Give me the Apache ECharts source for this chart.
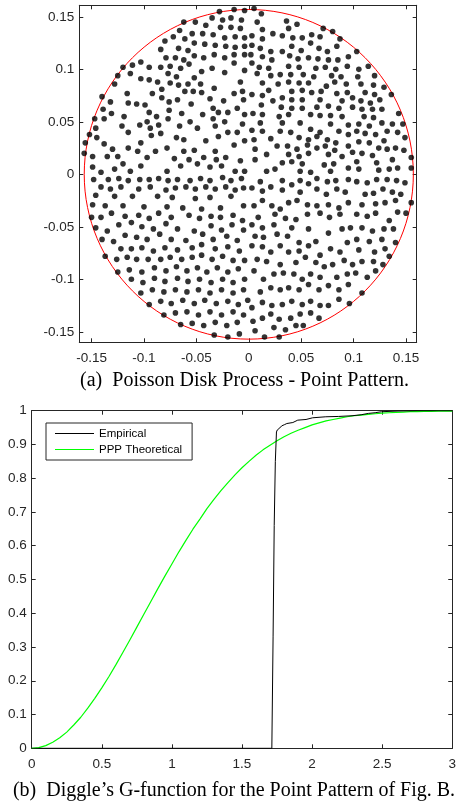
<!DOCTYPE html>
<html>
<head>
<meta charset="utf-8">
<script src="https://cdn.jsdelivr.net/npm/echarts@6/dist/echarts.min.js"></script>
<style>
  html, body { margin: 0; padding: 0; background: #ffffff; }
  #chart { width: 459px; height: 808px; }
</style>
</head>
<body>
<div id="chart"></div>
<script>
// ---- (a) Poisson disk point pattern, one list per quadrant of the window ----
const ptsNW = [
  [-.028,.155],[-.014,.157],[-.004,.156],[-.035,.149],[-.025,.147],[-.017,.149],[-.007,.147],[-.062,.145],[-.051,.145],
  [-.041,.142],[-.027,.140],[-.017,.140],[-.008,.139],[-.066,.137],[-.054,.134],[-.044,.134],[-.034,.133],[-.072,.131],
  [-.061,.129],[-.023,.130],[-.013,.131],[-.004,.130],[-.080,.127],[-.052,.125],[-.042,.124],[-.067,.120],[-.058,.118],
  [-.084,.119],[-.032,.123],[-.022,.122],[-.013,.121],[-.004,.122],[-.079,.111],[-.070,.111],[-.062,.109],[-.052,.113],
  [-.043,.111],[-.033,.114],[-.023,.111],[-.014,.114],[-.004,.114],[-.120,.102],[-.111,.104],[-.103,.107],[-.095,.102],
  [-.084,.102],[-.075,.103],[-.065,.101],[-.057,.105],[-.045,.098],[-.035,.101],[-.023,.097],[-.014,.106],[-.004,.099],
  [-.125,.094],[-.113,.096],[-.095,.090],[-.087,.088],[-.077,.096],[-.069,.093],[-.052,.092],[-.046,.086],[-.033,.082],
  [-.008,.088],[-.128,.086],[-.103,.091],[-.075,.087],[-.067,.085],[-.058,.086],[-.053,.079],[-.045,.078],[-.014,.077],
  [-.006,.079],[-.140,.074],[-.116,.077],[-.092,.077],[-.083,.081],[-.068,.071],[-.061,.079],[-.132,.069],[-.115,.068],
  [-.107,.067],[-.099,.066],[-.083,.073],[-.076,.069],[-.055,.067],[-.037,.072],[-.024,.070],[-.034,.063],[-.020,.059],
  [-.011,.063],[-.005,.071],[-.064,.058],[-.044,.057],[-.056,.050],[-.066,.046],
  [-.139,.062],[-.131,.058],[-.095,.059],[-.076,.061],[-.029,.059],[-.004,.057],[-.147,.053],[-.138,.053],[-.119,.055],
  [-.097,.050],[-.088,.055],[-.077,.053],[-.034,.053],[-.023,.050],[-.006,.048],[-.152,.038],[-.146,.044],[-.121,.046],
  [-.104,.047],[-.094,.044],[-.086,.047],[-.049,.044],[-.032,.046],[-.020,.040],[-.011,.040],[-.156,.030],[-.145,.035],
  [-.115,.040],[-.093,.037],[-.084,.039],[-.069,.035],[-.041,.032],[-.029,.036],[-.004,.032],[-.157,.020],[-.138,.029],
  [-.130,.024],[-.103,.030],[-.078,.025],[-.062,.033],[-.052,.023],[-.032,.022],[-.014,.028],[-.149,.017],[-.135,.017],
  [-.125,.017],[-.115,.025],[-.106,.022],[-.097,.016],[-.089,.022],[-.071,.015],[-.062,.022],[-.057,.014],[-.043,.016],
  [-.031,.014],[-.022,.016],[-.008,.013],[-.149,.007],[-.141,.002],[-.128,.005],[-.120,.010],[-.113,.003],[-.103,.008],
  [-.078,.003],[-.065,.008],[-.049,.010],[-.037,.007],[-.026,.008],[-.013,.003],[-.004,.003]
];
const ptsNE = [
  [.005,.158],[.012,.153],[.008,.145],[.036,.146],[.013,.138],[.023,.134],[.032,.132],[.038,.139],[.046,.143],
  [.003,.132],[.013,.129],[.042,.130],[.051,.130],[.060,.133],[.068,.131],[.071,.139],[.080,.136],[.087,.129],
  [.003,.123],[.011,.120],[.021,.117],[.032,.117],[.041,.122],[.050,.118],[.059,.125],[.067,.120],[.075,.117],[.084,.122],
  [.002,.114],[.013,.112],[.022,.109],[.039,.113],[.047,.110],[.057,.111],[.066,.110],[.076,.109],[.085,.109],
  [.095,.112],[.103,.117],[.003,.106],[.010,.102],[.019,.101],[.038,.103],[.048,.102],[.064,.101],[.073,.102],
  [.083,.100],[.094,.103],[.105,.100],[.114,.103],[.008,.096],[.021,.094],[.030,.095],[.040,.095],[.052,.095],[.062,.093],
  [.079,.094],[.088,.093],[.104,.093],[.120,.094],[.013,.087],[.028,.086],[.038,.088],[.048,.087],[.057,.087],
  [.074,.084],[.082,.088],[.093,.086],[.107,.086],[.119,.085],[.129,.083],[.019,.080],[.041,.079],[.051,.080],
  [.060,.078],[.069,.079],[.084,.077],[.094,.078],[.111,.078],[.120,.076],[.136,.076],[.003,.076],[.013,.075],[.023,.070],
  [.032,.073],[.041,.071],[.051,.071],[.068,.071],[.089,.070],[.099,.073],[.107,.070],[.116,.068],
  [.125,.071],[.012,.066],[.031,.064],[.041,.063],[.051,.063],[.065,.064],[.076,.065],[.086,.063],
  [.099,.064],[.108,.062],[.118,.062],[.127,.062],[.143,.058],[.004,.058],[.013,.057],[.029,.055],[.038,.057],
  [.059,.057],[.068,.056],[.078,.056],[.089,.055],[.110,.055],[.119,.054],[.011,.049],
  [.032,.049],[.049,.049],[.078,.048],[.095,.047],[.105,.048],[.115,.046],[.127,.049],[.137,.048],[.147,.048],
  [.003,.042],[.013,.041],[.030,.041],[.040,.040],[.059,.043],[.068,.040],[.086,.041],[.095,.038],[.103,.041],[.111,.039],
  [.121,.038],[.132,.041],[.142,.040],[.005,.033],[.021,.034],[.048,.035],[.057,.033],[.065,.036],[.075,.033],[.083,.030],
  [.105,.031],[.115,.030],[.129,.032],[.149,.035],[.006,.024],[.027,.027],[.037,.027],[.046,.024],[.056,.028],
  [.065,.025],[.073,.027],[.082,.023],[.095,.027],[.124,.025],[.132,.024],[.140,.025],[.148,.023],[.017,.019],
  [.038,.019],[.048,.017],[.057,.020],[.076,.019],[.089,.017],[.099,.021],[.108,.020],[.118,.018],
  [.155,.016],[.006,.014],[.032,.011],[.041,.012],[.051,.010],[.072,.009],[.081,.010],[.103,.012],
  [.122,.011],[.137,.014],[.017,.003],[.025,.005],[.049,.003],[.059,.002],[.078,.003],
  [.095,.006],[.105,.005],[.124,.004],[.134,.005],[.142,.006],[.155,.006]
];
const ptsSW = [
  [-.148,-.005],[-.134,-.005],[-.124,-.004],[-.115,-.006],[-.104,-.005],[-.095,-.005],[-.086,-.004],[-.077,-.006],
  [-.068,-.005],[-.056,-.006],[-.046,-.004],[-.037,-.006],[-.025,-.003],[-.017,-.006],[-.007,-.004],
  [-.141,-.012],[-.132,-.014],[-.122,-.012],[-.105,-.014],[-.094,-.012],[-.079,-.015],[-.070,-.013],[-.060,-.012],
  [-.051,-.014],[-.041,-.012],[-.032,-.014],[-.022,-.012],[-.013,-.015],[-.005,-.013],
  [-.146,-.020],[-.128,-.021],[-.111,-.021],[-.087,-.021],[-.073,-.022],[-.051,-.023],[-.037,-.022],[-.017,-.021],
  [-.149,-.029],[-.137,-.030],[-.120,-.030],[-.100,-.031],[-.078,-.031],[-.063,-.032],[-.045,-.033],[-.027,-.032],[-.005,-.030],
  [-.150,-.041],[-.141,-.041],[-.131,-.037],[-.118,-.040],[-.105,-.039],[-.095,-.042],[-.086,-.037],[-.074,-.041],
  [-.057,-.039],[-.047,-.042],[-.036,-.040],[-.027,-.041],[-.015,-.039],[-.006,-.044],
  [-.146,-.051],[-.135,-.054],[-.124,-.048],[-.112,-.046],[-.102,-.050],[-.091,-.052],[-.079,-.047],[-.068,-.052],
  [-.052,-.054],[-.036,-.049],[-.026,-.053],[-.016,-.048],[-.005,-.053],
  [-.140,-.062],[-.129,-.064],[-.118,-.058],[-.107,-.060],[-.097,-.062],[-.085,-.057],[-.074,-.062],[-.060,-.063],
  [-.044,-.057],[-.034,-.062],[-.021,-.059],[-.011,-.063],
  [-.122,-.071],[-.112,-.071],[-.102,-.070],[-.091,-.073],[-.080,-.070],[-.068,-.072],[-.054,-.070],
  [-.045,-.067],[-.032,-.071],[-.020,-.069],[-.009,-.073],
  [-.137,-.078],[-.126,-.081],[-.116,-.079],[-.107,-.081],[-.096,-.081],[-.084,-.081],[-.075,-.079],[-.064,-.081],
  [-.054,-.079],[-.045,-.077],[-.035,-.081],[-.025,-.078],[-.015,-.082],[-.004,-.082],
  [-.125,-.093],[-.114,-.091],[-.102,-.093],[-.090,-.089],[-.079,-.092],[-.069,-.088],[-.059,-.092],[-.049,-.089],
  [-.040,-.093],[-.030,-.089],[-.020,-.093],[-.010,-.090],
  [-.112,-.100],[-.101,-.103],[-.090,-.099],[-.080,-.102],[-.068,-.099],[-.058,-.102],[-.047,-.100],[-.036,-.103],
  [-.025,-.100],[-.015,-.103],[-.004,-.100],
  [-.103,-.113],[-.092,-.110],[-.081,-.112],[-.070,-.110],[-.059,-.112],[-.048,-.110],[-.037,-.113],[-.026,-.110],
  [-.015,-.113],[-.005,-.110],
  [-.095,-.124],[-.084,-.121],[-.074,-.123],[-.063,-.120],[-.052,-.123],[-.042,-.120],[-.031,-.123],[-.020,-.121],
  [-.010,-.124],[-.001,-.120],
  [-.081,-.134],[-.070,-.132],[-.059,-.131],[-.048,-.134],[-.037,-.131],[-.026,-.134],[-.015,-.131],[-.005,-.134],
  [-.065,-.143],[-.054,-.142],[-.043,-.144],[-.032,-.141],[-.021,-.144],[-.011,-.141],
  [-.033,-.153],[-.020,-.155],[-.009,-.152]
];
const ptsSE = [
  [.011,-.007],[.032,-.006],[.041,-.010],[.049,-.006],[.057,-.009],[.065,-.004],[.075,-.007],[.083,-.006],[.095,-.005],
  [.103,-.007],[.113,-.008],[.122,-.005],[.132,-.005],[.141,-.006],[.149,-.008],
  [.003,-.013],[.013,-.016],[.021,-.012],[.032,-.015],[.049,-.017],[.065,-.014],[.074,-.019],[.084,-.014],[.092,-.017],
  [.111,-.019],[.119,-.018],[.128,-.014],[.137,-.017],[.145,-.019],
  [.005,-.030],[.013,-.025],[.022,-.030],[.030,-.033],[.038,-.027],[.046,-.025],[.056,-.029],[.065,-.030],[.076,-.029],
  [.086,-.032],[.095,-.027],[.108,-.029],[.121,-.028],[.130,-.027],[.140,-.025],[.155,-.027],
  [.009,-.041],[.025,-.038],[.035,-.042],[.045,-.043],[.056,-.038],[.068,-.037],[.077,-.041],[.087,-.038],[.103,-.038],
  [.113,-.040],[.121,-.037],[.134,-.044],[.142,-.036],[.150,-.037],
  [.003,-.048],[.013,-.051],[.024,-.048],[.041,-.051],[.057,-.052],[.076,-.056],[.089,-.052],[.097,-.051],[.108,-.051],
  [.118,-.054],[.129,-.052],[.138,-.052],
  [.006,-.059],[.014,-.060],[.027,-.057],[.037,-.059],[.048,-.065],[.064,-.064],[.094,-.065],[.103,-.062],[.115,-.064],
  [.127,-.062],[.140,-.065],
  [.003,-.068],[.013,-.069],[.021,-.074],[.030,-.068],[.038,-.074],[.048,-.073],[.057,-.068],[.068,-.077],[.078,-.071],
  [.087,-.074],[.105,-.072],[.120,-.074],[.130,-.071],[.134,-.078],
  [.008,-.081],[.017,-.083],[.030,-.086],[.045,-.084],[.054,-.079],[.064,-.084],[.072,-.088],[.080,-.086],[.091,-.082],
  [.099,-.086],[.108,-.083],[.119,-.083],[.128,-.086],
  [.005,-.092],[.014,-.100],[.024,-.095],[.033,-.094],[.043,-.095],[.051,-.100],[.059,-.095],[.068,-.098],[.084,-.098],
  [.094,-.095],[.102,-.094],[.113,-.098],[.121,-.092],
  [.011,-.112],[.021,-.108],[.030,-.110],[.038,-.108],[.048,-.110],[.057,-.105],[.067,-.110],[.076,-.106],[.086,-.110],
  [.095,-.105],[.108,-.113],
  [.003,-.127],[.013,-.122],[.022,-.125],[.032,-.124],[.041,-.121],[.051,-.124],[.059,-.121],[.068,-.125],[.076,-.125],
  [.086,-.119],[.096,-.123],
  [.004,-.140],[.013,-.137],[.021,-.133],[.029,-.138],[.040,-.137],[.049,-.133],[.059,-.132],[.067,-.137],
  [.006,-.149],[.015,-.155],[.024,-.146],[.029,-.155],[.035,-.148],[.045,-.144],[.052,-.144]
];
const windowRadius = 0.157;
const patternTicks = [-0.15, -0.1, -0.05, 0, 0.05, 0.1, 0.15];
const patternXRange = [-0.1617, 0.1602];
const patternYRange = [-0.1600, 0.1610];

// ---- (b) Diggle's G-function ----
const theoR = [0,0.05,0.1,0.15,0.2,0.25,0.3,0.35,0.4,0.45,0.5,0.55,0.6,0.65,0.7,0.75,0.8,0.85,0.9,0.95,
               1.0,1.05,1.1,1.15,1.2,1.25,1.3,1.35,1.4,1.45,1.5,1.55,1.6,1.65,1.7,1.75,1.8,1.85,1.9,1.95,
               2.0,2.05,2.1,2.15,2.2,2.25,2.3,2.35,2.4,2.45,2.5,2.55,2.6,2.65,2.7,2.75,2.8,2.85,2.9,2.95,3.0];
const theoG = [0,0.002,0.008,0.018,0.031,0.048,0.069,0.092,0.119,0.148,0.179,0.212,0.247,0.284,0.321,0.359,
               0.397,0.435,0.473,0.510,0.546,0.582,0.616,0.649,0.679,0.710,0.737,0.763,0.787,0.810,0.831,
               0.850,0.868,0.884,0.898,0.911,0.923,0.933,0.942,0.950,0.958,0.964,0.970,0.974,0.978,0.982,
               0.985,0.987,0.989,0.991,0.993,0.994,0.995,0.996,0.997,0.997,0.998,0.998,0.999,0.999,0.999];
const empR = [0,1.713,1.722,1.730,1.738,1.746,1.752,1.770,1.783,1.805,1.820,1.863,1.898,1.957,2.004,
              2.098,2.190,2.285,2.350,2.402,2.450,2.496,2.613,2.750,3.0];
const empG = [0,0,0.330,0.660,0.850,0.937,0.943,0.949,0.955,0.959,0.962,0.965,0.972,0.974,0.979,
              0.982,0.983,0.985,0.988,0.992,0.994,0.997,0.999,1.0,1.0];

const ink = '#262626';
const sans = '"Liberation Sans", Arial, Helvetica, sans-serif';
const serif = '"Liberation Serif", "Times New Roman", serif';

const axisLine = { show: true, onZero: false, lineStyle: { color: ink, width: 1 } };
const tick = { show: true, inside: true, length: 4, lineStyle: { color: ink, width: 1 } };
const label = { color: ink, fontFamily: sans, fontSize: 13.5 };
const noSplit = { show: false };
const fmt2 = v => String(Math.round(v * 100) / 100);

const chart = echarts.init(document.getElementById('chart'), null, { renderer: 'canvas' });

chart.setOption({
  animation: false,
  backgroundColor: '#ffffff',
  grid: [
    { left: 79.3, top: 5.3, width: 337.4, height: 337 },
    { left: 31.7, top: 410.7, width: 426.6, height: 337.6 }
  ],
  xAxis: [
    { gridIndex: 0, type: 'value', position: 'bottom', min: patternXRange[0], max: patternXRange[1],
      axisLine, axisTick: Object.assign({}, tick, { customValues: patternTicks }),
      axisLabel: Object.assign({}, label, { margin: 9, customValues: patternTicks, formatter: fmt2 }),
      splitLine: noSplit },
    { gridIndex: 0, type: 'value', position: 'top', min: patternXRange[0], max: patternXRange[1],
      axisLine, axisTick: Object.assign({}, tick, { customValues: patternTicks }),
      axisLabel: { show: false }, splitLine: noSplit },
    { gridIndex: 1, type: 'value', position: 'bottom', min: 0, max: 3, interval: 0.5,
      axisLine, axisTick: tick, axisLabel: Object.assign({}, label, { margin: 9 }), splitLine: noSplit },
    { gridIndex: 1, type: 'value', position: 'top', min: 0, max: 3, interval: 0.5,
      axisLine, axisTick: tick, axisLabel: { show: false }, splitLine: noSplit }
  ],
  yAxis: [
    { gridIndex: 0, type: 'value', position: 'left', min: patternYRange[0], max: patternYRange[1],
      axisLine, axisTick: Object.assign({}, tick, { customValues: patternTicks }),
      axisLabel: Object.assign({}, label, { margin: 5, customValues: patternTicks, formatter: fmt2 }),
      splitLine: noSplit },
    { gridIndex: 0, type: 'value', position: 'right', min: patternYRange[0], max: patternYRange[1],
      axisLine, axisTick: Object.assign({}, tick, { customValues: patternTicks }),
      axisLabel: { show: false }, splitLine: noSplit },
    { gridIndex: 1, type: 'value', position: 'left', min: 0, max: 1, interval: 0.1,
      axisLine, axisTick: tick, axisLabel: Object.assign({}, label, { margin: 5 }), splitLine: noSplit },
    { gridIndex: 1, type: 'value', position: 'right', min: 0, max: 1, interval: 0.1,
      axisLine, axisTick: tick, axisLabel: { show: false }, splitLine: noSplit }
  ],
  legend: {
    data: ['Empirical', 'PPP Theoretical'],
    orient: 'vertical', left: 46, top: 423,
    icon: 'rect', itemWidth: 39, itemHeight: 1, itemGap: 3,
    padding: [4, 10, 4, 9],
    borderColor: ink, borderWidth: 1, backgroundColor: '#ffffff',
    textStyle: { fontFamily: sans, fontSize: 11.5, color: '#000000', lineHeight: 13 },
    selectedMode: false
  },
  series: [
    { type: 'scatter', name: 'pattern', xAxisIndex: 0, yAxisIndex: 0,
      data: ptsNW.concat(ptsNE, ptsSW, ptsSE),
      symbol: 'circle', symbolSize: 5.6, itemStyle: { color: '#000000' }, z: 3, silent: true },
    { type: 'line', name: 'Empirical', xAxisIndex: 2, yAxisIndex: 2,
      data: empR.map((r, i) => [r, empG[i]]), symbol: 'none',
      lineStyle: { color: '#000000', width: 1 }, itemStyle: { color: '#000000' }, z: 3, silent: true },
    { type: 'line', name: 'PPP Theoretical', xAxisIndex: 2, yAxisIndex: 2,
      data: theoR.map((r, i) => [r, theoG[i]]), symbol: 'none', smooth: false,
      lineStyle: { color: '#00ff00', width: 1.2 }, itemStyle: { color: '#00ff00' }, z: 2, silent: true }
  ]
});

// Observation window boundary, placed through the pattern axes
const c0 = chart.convertToPixel({ xAxisIndex: 0, yAxisIndex: 0 }, [0, 0]);
const c1 = chart.convertToPixel({ xAxisIndex: 0, yAxisIndex: 0 }, [windowRadius, windowRadius]);

chart.setOption({
  graphic: [
    { type: 'ellipse', id: 'window', z: 1, silent: true,
      shape: { cx: c0[0], cy: c0[1], rx: c1[0] - c0[0], ry: c0[1] - c1[1] },
      style: { fill: 'none', stroke: '#ff0000', lineWidth: 1 } },
    { type: 'text', id: 'capA', x: 244.5, y: 381, silent: true,
      style: { text: '(a)  Poisson Disk Process - Point Pattern.', font: '20px ' + serif,
               fill: '#000000', textAlign: 'center', textVerticalAlign: 'middle' } },
    { type: 'text', id: 'capB', x: 234, y: 791, silent: true,
      style: { text: '(b)  Diggle\u2019s G-function for the Point Pattern of Fig. B.', font: '20px ' + serif,
               fill: '#000000', textAlign: 'center', textVerticalAlign: 'middle' } }
  ]
});
</script>
</body>
</html>
